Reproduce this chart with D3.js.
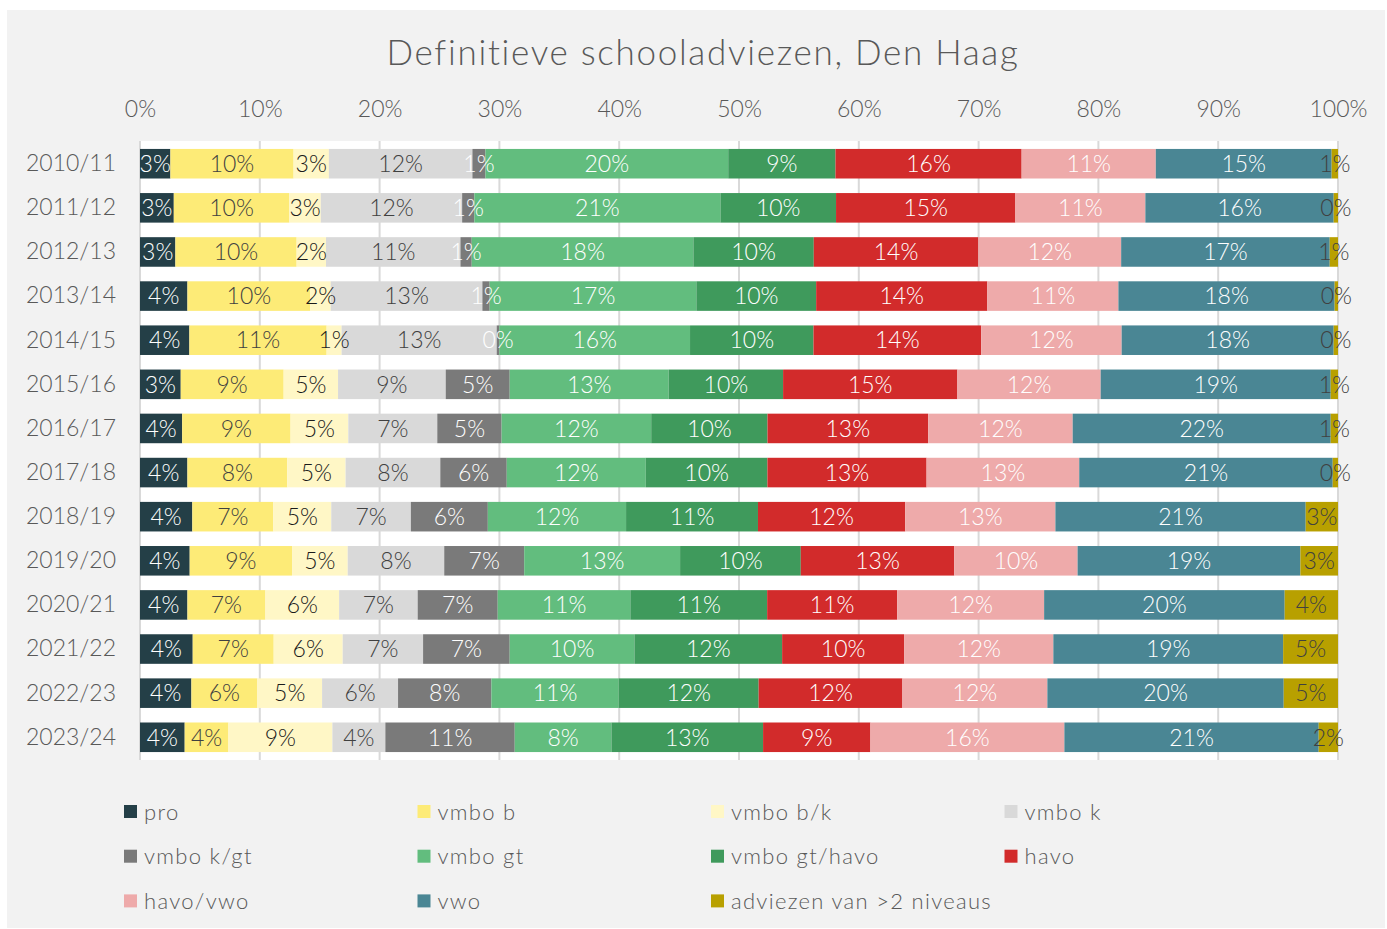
<!DOCTYPE html>
<html>
<head>
<meta charset="utf-8">
<title>Definitieve schooladviezen, Den Haag</title>
<script src="https://d3js.org/d3.v7.min.js"></script>
<style>
  body { margin:0; background:#fff; font-family: Lato, "Noto Sans", sans-serif; }
  text { font-family: Lato, "Noto Sans", sans-serif; font-weight: 300; }
</style>
</head>
<body>
<script>

// schooljaren (rijen)
var years = ["2010/11","2011/12","2012/13","2013/14","2014/15","2015/16","2016/17",
             "2017/18","2018/19","2019/20","2020/21","2021/22","2022/23","2023/24"];

// adviesniveaus (volgorde van stapeling)
var levels = ["pro","vmbo b","vmbo b/k","vmbo k","vmbo k/gt","vmbo gt","vmbo gt/havo",
              "havo","havo/vwo","vwo","adviezen van >2 niveaus"];

// percentages per niveau, per schooljaar
var pro       = [2.54, 2.82, 2.95, 3.96, 4.12, 3.40, 3.52, 3.96, 4.37, 4.15, 3.96, 4.40, 4.29, 3.73];
var vmboB     = [10.29, 9.65, 10.11, 10.26, 11.45, 8.59, 9.05, 8.34, 6.77, 8.55, 6.51, 6.76, 5.51, 3.65];
var vmboBK    = [2.95, 2.62, 2.45, 1.70, 1.25, 4.54, 4.82, 4.87, 4.84, 4.65, 6.15, 5.76, 5.40, 8.68];
var vmboK     = [11.99, 11.80, 11.21, 12.66, 12.94, 8.99, 7.43, 7.91, 6.65, 8.06, 6.56, 6.71, 6.34, 4.42];
var vmboKGT   = [1.09, 1.02, 0.94, 0.61, 0.22, 5.34, 5.37, 5.55, 6.43, 6.68, 6.68, 7.23, 7.79, 10.80];
var vmboGT    = [20.28, 20.54, 18.48, 17.25, 15.91, 13.27, 12.49, 11.61, 11.55, 13.02, 11.07, 10.41, 10.63, 8.07];
var vmboGTH   = [8.96, 9.65, 10.04, 10.00, 10.30, 9.55, 9.71, 10.16, 11.02, 10.08, 11.42, 12.33, 11.68, 12.66];
var havo      = [15.55, 14.97, 13.72, 14.29, 13.99, 14.55, 13.41, 13.29, 12.30, 12.82, 10.85, 10.18, 12.00, 8.96];
var havoVwo   = [11.21, 10.85, 11.91, 10.94, 11.72, 11.96, 12.07, 12.75, 12.55, 10.30, 12.27, 12.46, 12.10, 16.19];
var vwo       = [14.69, 15.72, 17.39, 18.05, 17.69, 19.20, 21.54, 21.17, 20.91, 18.61, 20.08, 19.18, 19.73, 21.23];
var meerNiv   = [0.53, 0.36, 0.69, 0.28, 0.36, 0.61, 0.61, 0.44, 2.70, 3.14, 4.45, 4.58, 4.53, 1.61];

var series = [pro, vmboB, vmboBK, vmboK, vmboKGT, vmboGT, vmboGTH, havo, havoVwo, vwo, meerNiv];

var colors     = ["#243f47","#fdeb77","#fff7c6","#d9d9d9","#7a7a7a","#62bd7e",
                  "#3f9a5c","#d22b2b","#eeaaaa","#4a8694","#b8a000"];
var textColors = ["#ffffff","#404040","#1a1a1a","#404040","#ffffff","#ffffff",
                  "#ffffff","#ffffff","#ffffff","#ffffff","#404040"];

var xTicks = [0, 0.1, 0.2, 0.3, 0.4, 0.5, 0.6, 0.7, 0.8, 0.9, 1];

var W = 1387, H = 929;
var plot = {left: 140, right: 1338, top: 141, bottom: 760};

// tabel voor d3.stack
var table = years.map(function(y, i){
	var row = {year: y};
	levels.forEach(function(l, j){ row[l] = series[j][i]; });
	return row;
});

var svg = d3.select("body").append("svg")
	.attr("width", W)
	.attr("height", H);

// grijze achtergrond van de grafiek
svg.append("rect")
	.attr("x", 7).attr("y", 10)
	.attr("width", 1378).attr("height", 918)
	.attr("fill", "#f2f2f2");

// witte plotruimte
svg.append("rect")
	.attr("x", plot.left).attr("y", plot.top)
	.attr("width", plot.right - plot.left).attr("height", plot.bottom - plot.top)
	.attr("fill", "#ffffff");

var x = d3.scaleLinear().domain([0, 1]).range([plot.left, plot.right]);
var y = d3.scaleBand().domain(years).range([plot.top, plot.bottom])
	.paddingInner(0.33).paddingOuter(0.18);

// titel
svg.append("text")
	.attr("x", 703).attr("y", 65)
	.attr("text-anchor", "middle")
	.attr("font-size", "35px")
	.attr("letter-spacing", "1.7px")
	.attr("fill", "#595959")
	.text("Definitieve schooladviezen, Den Haag");

// rasterlijnen
svg.append("g").selectAll("line")
	.data(xTicks)
	.enter().append("line")
		.attr("x1", function(d){ return x(d); })
		.attr("x2", function(d){ return x(d); })
		.attr("y1", plot.top).attr("y2", plot.bottom)
		.attr("stroke", "#d9d9d9")
		.attr("stroke-width", 2);

// x-as bovenaan
var xAxis = svg.append("g")
	.attr("transform", "translate(0," + plot.top + ")")
	.call(d3.axisTop(x).tickValues(xTicks).tickFormat(d3.format(".0%")).tickSize(0).tickPadding(24));
xAxis.select(".domain").remove();
xAxis.selectAll("text").attr("font-size", "23px").attr("fill", "#595959")
	.attr("font-family", "Lato, sans-serif").attr("font-weight", 300);

// y-as links
var yAxis = svg.append("g")
	.attr("transform", "translate(" + plot.left + ",0)")
	.call(d3.axisLeft(y).tickSize(0).tickPadding(24));
yAxis.select(".domain").remove();
yAxis.selectAll("text").attr("font-size", "23px").attr("fill", "#595959")
	.attr("font-family", "Lato, sans-serif").attr("font-weight", 300);

// gestapelde balken
var stacked = d3.stack().keys(levels).offset(d3.stackOffsetExpand)(table);

var layers = svg.append("g").selectAll("g")
	.data(stacked)
	.enter().append("g")
		.attr("fill", function(d, i){ return colors[i]; });

layers.selectAll("rect")
	.data(function(d){ return d; })
	.enter().append("rect")
		.attr("x", function(d){ return x(d[0]); })
		.attr("y", function(d){ return y(d.data.year); })
		.attr("width", function(d){ return x(d[1]) - x(d[0]); })
		.attr("height", y.bandwidth());

// labels in de balken
var labels = svg.append("g").selectAll("g")
	.data(stacked)
	.enter().append("g")
		.attr("fill", function(d, i){ return textColors[i]; });

labels.selectAll("text")
	.data(function(d){ return d.map(function(p){ return {p: p, key: d.key}; }); })
	.enter().append("text")
		.attr("x", function(d){ return (x(d.p[0]) + x(d.p[1])) / 2; })
		.attr("y", function(d){ return y(d.p.data.year) + y.bandwidth() / 2; })
		.attr("dy", "0.36em")
		.attr("text-anchor", "middle")
		.attr("font-size", "23px")
		.text(function(d){ return Math.round(d.p.data[d.key]) + "%"; });

// legenda
var legend = svg.append("g").selectAll("g")
	.data(levels)
	.enter().append("g")
		.attr("transform", function(d, i){
			return "translate(" + (124 + (i % 4) * 293.5) + "," + (812 + Math.floor(i / 4) * 44.7) + ")";
		});

legend.append("rect")
	.attr("x", 0).attr("y", -7)
	.attr("width", 13).attr("height", 13)
	.attr("fill", function(d, i){ return colors[i]; });

legend.append("text")
	.attr("x", 20).attr("y", 0)
	.attr("dy", "0.35em")
	.attr("font-size", "22px")
	.attr("letter-spacing", "1.3px")
	.attr("fill", "#595959")
	.text(function(d){ return d; });

</script>
</body>
</html>
